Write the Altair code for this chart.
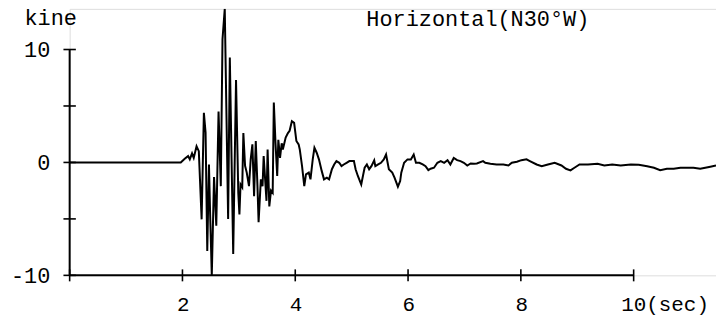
import altair as alt
import pandas as pd

# Trace: time (sec) and velocity (kine)
t = [0.0, 1.97, 2.04, 2.10, 2.13, 2.17, 2.20, 2.25, 2.29, 2.34, 2.38, 2.41, 2.44, 2.47,
     2.49, 2.52, 2.56, 2.60, 2.64, 2.68, 2.71, 2.75, 2.81, 2.84, 2.90, 2.95, 2.99, 3.01,
     3.03, 3.06, 3.08, 3.11, 3.14, 3.18, 3.21, 3.24, 3.27, 3.30, 3.33, 3.35, 3.39, 3.42,
     3.44, 3.49, 3.51, 3.54, 3.57, 3.60, 3.62, 3.65, 3.68, 3.70, 3.73, 3.76, 3.78, 3.83,
     3.87, 3.90, 3.94, 3.98, 4.02, 4.06, 4.08, 4.12, 4.16, 4.19, 4.24, 4.27, 4.31, 4.34,
     4.38, 4.42, 4.47, 4.51, 4.56, 4.60, 4.65, 4.69, 4.73, 4.78, 4.82, 4.86, 4.91, 4.96,
     5.00, 5.04, 5.07, 5.11, 5.17, 5.20, 5.23, 5.27, 5.31, 5.35, 5.40, 5.42, 5.47, 5.52,
     5.57, 5.61, 5.66, 5.72, 5.76, 5.82, 5.86, 5.88, 5.93, 5.99, 6.05, 6.10, 6.14, 6.20,
     6.26, 6.31, 6.36, 6.40, 6.46, 6.52, 6.58, 6.64, 6.70, 6.75, 6.81, 6.87, 6.93, 6.99,
     7.05, 7.11, 7.17, 7.22, 7.33, 7.37, 7.46, 7.57, 7.69, 7.78, 7.84, 7.93, 8.01, 8.10,
     8.16, 8.28, 8.37, 8.48, 8.60, 8.72, 8.80, 8.88, 8.95, 9.04, 9.19, 9.36, 9.48, 9.62,
     9.77, 9.95, 10.09, 10.24, 10.36, 10.47, 10.59, 10.71, 10.83, 10.94, 11.06, 11.18,
     11.27, 11.36, 11.46]
v = [0.0, 0.0, 0.33, 0.56, 0.27, 0.8, 0.4, 1.44, 1.0, -5.04, 4.4, 2.65, -7.85, -0.18,
     -4.4, -10.0, -1.3, -5.6, 4.5, -2.1, 10.9, 13.6, -5.0, 9.3, -8.1, 7.3, -2.7, -4.6,
     -1.95, -2.2, 2.6, -0.3, -0.9, -2.1, 0.27, 1.6, -3.0, 1.9, -2.1, -5.3, -1.5, -2.1,
     0.56, -3.4, 1.15, -3.9, -2.5, -2.7, 5.3, 1.7, -1.2, 2.0, 0.4, 1.7, 1.15, 2.2,
     2.6, 2.8, 3.65, 3.5, 1.9, 1.6, 1.15, -0.3, -2.1, -1.06, -0.9, -1.5, 0.27, 1.3,
     0.86, 0.27, -0.77, -1.5, -1.35, -1.5, -0.6, -0.18, 0.12, -0.03, -0.33, -0.18, -0.03, 0.12,
     0.12, 0.12, -0.6, -1.2, -1.95, -1.2, -0.47, -0.18, -0.6, -0.33, 0.18, -0.33, -0.18, -0.03,
     0.27, 0.7, -0.6, -0.9, -1.35, -2.15, -1.65, -0.9, -0.03, 0.27, 0.27, 0.7, -0.03, -0.03,
     -0.18, -0.33, -0.68, -0.56, -0.47, -0.03, 0.12, -0.03, 0.2, -0.18, 0.4, 0.2, 0.12, -0.03,
     -0.27, -0.09, -0.12, -0.09, 0.12, -0.03, -0.12, -0.18, -0.18, -0.27, -0.03, 0.06, 0.2, 0.27,
     0.12, -0.18, -0.33, -0.18, -0.03, -0.27, -0.56, -0.7, -0.47, -0.18, -0.18, -0.12, -0.27, -0.18,
     -0.27, -0.18, -0.21, -0.33, -0.47, -0.68, -0.56, -0.56, -0.47, -0.47, -0.47, -0.56,
     -0.47, -0.38, -0.27]

x_ticks = [0, 2, 4, 6, 8, 10]
x_labels = [2, 4, 6, 8, 10]
y_ticks = [-10, -5, 0, 5, 10]
y_labels = [-10, 0, 10]
title_text = ["Horizontal(N30°W)"]
title_t = [5.26]
title_v = [12.06]

FONT = "Liberation Mono"
T_MAX = 11.46
V_MIN, V_MAX = -10, 13.6

trace = pd.DataFrame({"t": t, "v": v})
xs = alt.Scale(domain=[0, T_MAX], nice=False, zero=False)
ys = alt.Scale(domain=[V_MIN, V_MAX], nice=False, zero=False)

base_x = alt.X("t:Q", scale=xs, axis=alt.Axis(
    values=x_labels, domain=False, ticks=False, tickSize=0, grid=False,
    labelFont=FONT, labelFontSize=21, labelColor="black", labelPadding=18,
    labelAlign="left", labelFlush=False, labelOverlap=False,
    labelOffset={"condition": {"test": "datum.value == 10", "value": -13}, "value": -6},
    labelExpr="datum.value == 10 ? '10(sec)' : format(datum.value, 'd')",
    title=None))
base_y = alt.Y("v:Q", scale=ys, axis=alt.Axis(
    values=y_labels, domain=False, ticks=False, tickSize=0, grid=False,
    labelFont=FONT, labelFontSize=22, labelColor="black", labelPadding=20,
    labelFlush=False, labelOverlap=False,
    labelExpr="datum.value == -10 ? '-10' : format(datum.value, 'd')",
    title="kine", titleAngle=0, titleAlign="left", titleBaseline="alphabetic",
    titleX=-46, titleY=16, titleFont=FONT, titleFontSize=22,
    titleFontWeight="normal", titleColor="black"))

line = alt.Chart(trace).mark_line(color="black", strokeWidth=2, clip=True).encode(
    x=base_x, y=base_y)

x_axis_line = alt.Chart(pd.DataFrame({"t0": [0], "t1": [x_ticks[-1]], "v": [V_MIN]})).mark_rule(
    color="black", strokeWidth=2).encode(x=alt.X("t0:Q", scale=xs), x2="t1:Q", y=alt.Y("v:Q", scale=ys))
y_axis_line = alt.Chart(pd.DataFrame({"t": [0], "v0": [V_MIN], "v1": [y_ticks[-1]]})).mark_rule(
    color="black", strokeWidth=2).encode(x=alt.X("t:Q", scale=xs), y=alt.Y("v0:Q", scale=ys), y2="v1:Q")

xt = pd.DataFrame({"t": x_ticks})
xt["lo"] = V_MIN - 0.53
xt["hi"] = V_MIN + 0.53
x_tick_marks = alt.Chart(xt).mark_rule(color="black", strokeWidth=1.6).encode(
    x=alt.X("t:Q", scale=xs), y=alt.Y("lo:Q", scale=ys), y2="hi:Q")

yt = pd.DataFrame({"v": y_ticks})
yt["lo"] = -0.11
yt["hi"] = 0.11
y_tick_marks = alt.Chart(yt).mark_rule(color="black", strokeWidth=1.6).encode(
    y=alt.Y("v:Q", scale=ys), x=alt.X("lo:Q", scale=xs), x2="hi:Q")

title_mark = alt.Chart(pd.DataFrame({"t": title_t, "v": title_v, "label": title_text})).mark_text(
    align="left", baseline="alphabetic", font=FONT, fontSize=22, color="black").encode(
    x=alt.X("t:Q", scale=xs), y=alt.Y("v:Q", scale=ys), text="label:N")

chart = alt.layer(line, x_axis_line, y_axis_line, x_tick_marks, y_tick_marks, title_mark).properties(
    width=650, height=268,
    autosize="none",
    padding={"left": 62, "top": 0, "right": 0, "bottom": 40},
).configure_view(stroke=None).configure(background="white")

chart.save("out.html", embed_options={"renderer": "svg", "actions": False})
